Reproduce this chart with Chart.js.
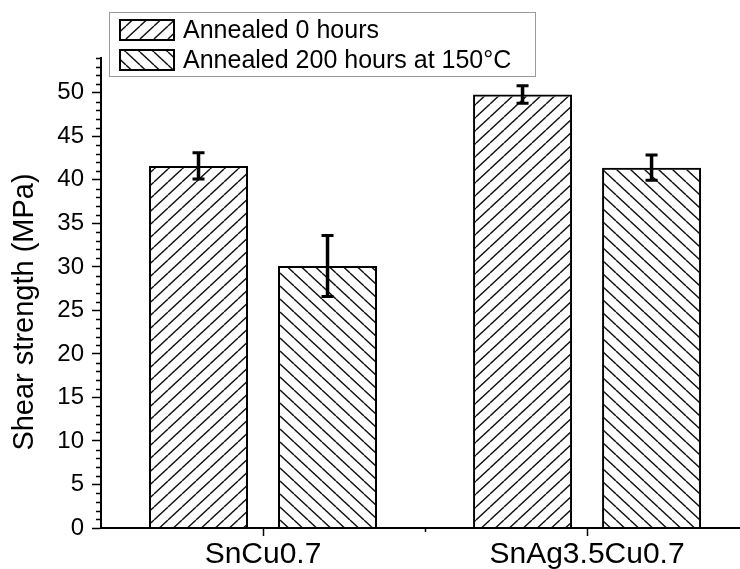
<!DOCTYPE html>
<html>
<head>
<meta charset="utf-8">
<script src="https://cdn.jsdelivr.net/npm/chart.js@4.4.1/dist/chart.umd.min.js"></script>
<style>
  html, body { margin: 0; background: #fff; }
  #wrap { width: 740px; height: 569px; }
</style>
</head>
<body>
<div id="wrap"><canvas id="chart" width="740" height="569"></canvas></div>
<script>
const categories = ["SnCu0.7", "SnAg3.5Cu0.7"];
const seriesNames = ["Annealed 0 hours", "Annealed 200 hours at 150°C"];
const annealed0 = [41.6, 49.8];
const annealed0Err = [1.5, 1.0];
const annealed200 = [30.1, 41.4];
const annealed200Err = [3.5, 1.45];
const yMajorTicks = [0, 5, 10, 15, 20, 25, 30, 35, 40, 45, 50];

const FONT = "'Liberation Sans', Arial, sans-serif";
const canvas = document.getElementById("chart");
const ctx = canvas.getContext("2d");

// diagonal hatch, dir 1 = "/" , dir -1 = "\"
function hatch(dir) {
    const w = 14, h = 13;
    const c = document.createElement("canvas");
    c.width = w;
    c.height = h;
    const g = c.getContext("2d");
    g.strokeStyle = "#111";
    g.lineWidth = 1.4;
    for (const off of [-w, 0, w]) {
        g.beginPath();
        if (dir > 0) {
            g.moveTo(off, h);
            g.lineTo(off + w, 0);
        } else {
            g.moveTo(off, 0);
            g.lineTo(off + w, h);
        }
        g.stroke();
    }
    return ctx.createPattern(c, "repeat");
}

const patterns = [hatch(1), hatch(-1)];

// categories sit on odd positions of a linear axis (ticks at 0,1,2,3)
const catPos = (i) => 2 * i + 1;

const extras = {
    id: "extras",
    afterDatasetsDraw(chart) {
        const { ctx, scales: { y } } = chart;
        ctx.save();
        ctx.strokeStyle = "#000";
        chart.data.datasets.forEach((ds, di) => {
            chart.getDatasetMeta(di).data.forEach((bar, i) => {
                const v = ds.data[i].y, e = ds.errors[i];
                const top = y.getPixelForValue(v + e);
                const bot = y.getPixelForValue(v - e);
                ctx.lineWidth = 3.5;
                ctx.beginPath();
                ctx.moveTo(bar.x, top);
                ctx.lineTo(bar.x, bot);
                ctx.stroke();
                ctx.lineWidth = 3;
                ctx.beginPath();
                ctx.moveTo(bar.x - 6, top);
                ctx.lineTo(bar.x + 6, top);
                ctx.moveTo(bar.x - 6, bot);
                ctx.lineTo(bar.x + 6, bot);
                ctx.stroke();
            });
        });
        ctx.restore();
    },
    afterDraw(chart) {
        const { ctx, chartArea: a, scales: { x, y } } = chart;
        ctx.save();
        // minor ticks
        ctx.strokeStyle = "#000";
        ctx.lineWidth = 1.5;
        ctx.beginPath();
        for (let v = 1; v <= y.max; v++) {
            if (v % 5 === 0) continue;
            const py = Math.round(y.getPixelForValue(v)) + 0.5;
            ctx.moveTo(a.left - 5, py);
            ctx.lineTo(a.left, py);
        }
        for (let v = 2; v < x.max; v += 2) {
            const px = Math.round(x.getPixelForValue(v)) + 0.5;
            ctx.moveTo(px, a.bottom);
            ctx.lineTo(px, a.bottom + 4);
        }
        ctx.stroke();

        // y title
        ctx.fillStyle = "#000";
        ctx.font = "29px " + FONT;
        ctx.textAlign = "center";
        ctx.textBaseline = "middle";
        ctx.translate(25, 312);
        ctx.rotate(-Math.PI / 2);
        ctx.fillText("Shear strength (MPa)", 0, 0);
        ctx.setTransform(1, 0, 0, 1, 0, 0);

        // legend box
        ctx.fillStyle = "#fff";
        ctx.fillRect(109.5, 12.5, 426, 64);
        ctx.strokeStyle = "#9a9a9a";
        ctx.lineWidth = 1;
        ctx.strokeRect(109.5, 12.5, 426, 64);
        ctx.font = "25px " + FONT;
        ctx.textAlign = "left";
        ctx.textBaseline = "middle";
        seriesNames.forEach((name, i) => {
            const top = 20 + i * 30;
            ctx.fillStyle = patterns[i];
            ctx.fillRect(120, top, 54, 20);
            ctx.strokeStyle = "#000";
            ctx.lineWidth = 2;
            ctx.strokeRect(120, top, 54, 20);
            ctx.fillStyle = "#000";
            ctx.fillText(name, 183, top + 11);
        });
        ctx.restore();
    },
};

new Chart(canvas, {
    type: "bar",
    data: {
        datasets: [
            {
                label: seriesNames[0],
                data: categories.map((c, i) => ({ x: catPos(i), y: annealed0[i] })),
                errors: annealed0Err,
                backgroundColor: patterns[0],
                borderColor: "#000",
                borderWidth: 2,
            },
            {
                label: seriesNames[1],
                data: categories.map((c, i) => ({ x: catPos(i), y: annealed200[i] })),
                errors: annealed200Err,
                backgroundColor: patterns[1],
                borderColor: "#000",
                borderWidth: 2,
            },
        ],
    },
    options: {
        responsive: false,
        animation: false,
        categoryPercentage: 1.5926,
        barPercentage: 0.7674,
        layout: { padding: { top: 58, left: 0, right: 0, bottom: 0 } },
        plugins: {
            legend: { display: false },
            tooltip: { enabled: false },
        },
        scales: {
            x: {
                type: "linear",
                offset: false,
                min: 0,
                max: 3.944,
                afterFit: (s) => { s.height = 41; },
                border: { display: true, color: "#000", width: 2 },
                grid: {
                    offset: false,
                    drawOnChartArea: false,
                    tickLength: 8,
                    tickWidth: 1.5,
                    tickColor: (c) => (c.tick && c.tick.value % 2 === 1 ? "#000" : "rgba(0,0,0,0)"),
                },
                ticks: {
                    stepSize: 1,
                    includeBounds: false,
                    autoSkip: false,
                    maxRotation: 0,
                    padding: 1,
                    color: "#000",
                    font: { family: FONT, size: 30 },
                    callback: (v) => (v % 2 === 1 ? categories[(v - 1) / 2] : ""),
                },
            },
            y: {
                min: 0,
                max: 54,
                afterFit: (s) => { s.width = 101; },
                border: { display: true, color: "#000", width: 2 },
                grid: {
                    drawOnChartArea: false,
                    tickLength: 9,
                    tickWidth: 1.5,
                    tickColor: (c) => (c.tick && yMajorTicks.includes(c.tick.value) ? "#000" : "rgba(0,0,0,0)"),
                },
                ticks: {
                    stepSize: 1,
                    autoSkip: false,
                    padding: 8,
                    color: "#000",
                    font: { family: FONT, size: 24 },
                    callback: (v) => (yMajorTicks.includes(v) ? String(v) : ""),
                },
            },
        },
    },
    plugins: [extras],
});
</script>
</body>
</html>
